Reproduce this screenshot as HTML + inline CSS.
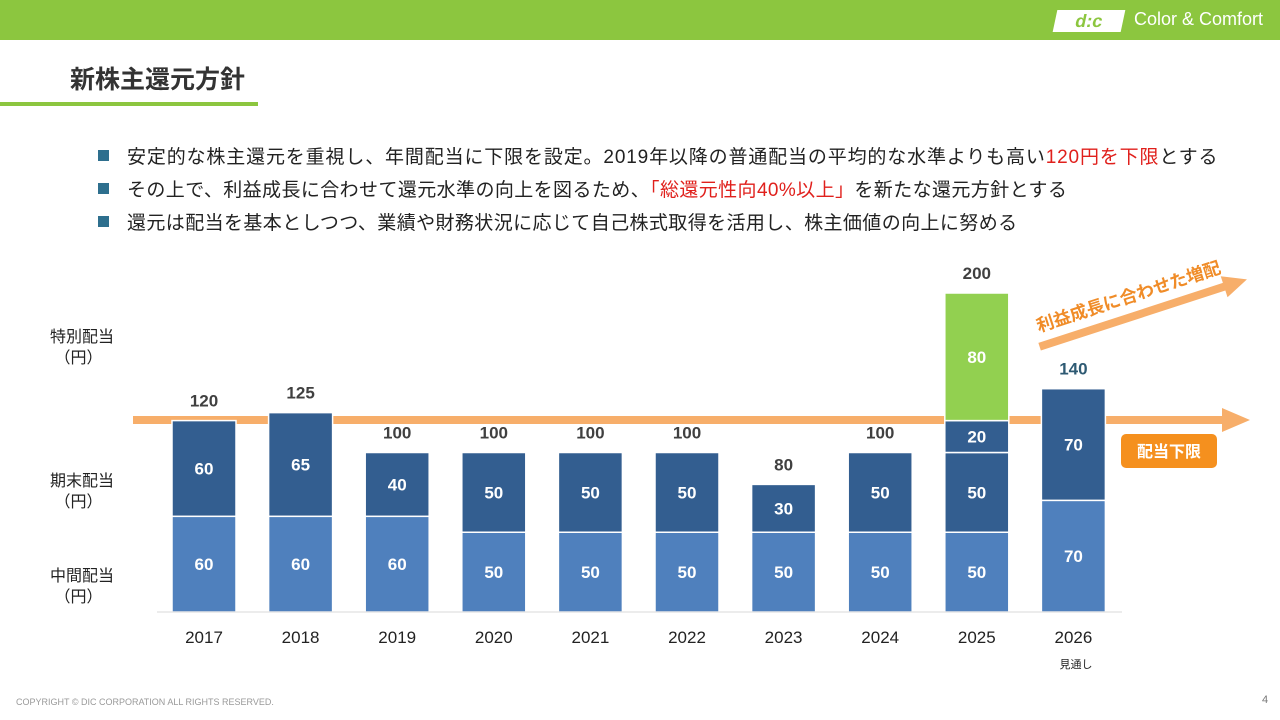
<!DOCTYPE html>
<html><head><meta charset="utf-8"><style>
body{margin:0;width:1280px;height:720px;overflow:hidden;background:#fff;font-family:"Liberation Sans","Noto Sans CJK JP",sans-serif;position:relative}
.abs{position:absolute}
.bul{position:absolute;left:98px;font-size:19px;color:#222;white-space:nowrap;letter-spacing:0.85px}
.bul:before{content:"";display:inline-block;width:11px;height:11px;background:#2e6f8e;margin-right:18px;vertical-align:2px}
.red{color:#e0201c}
.ylab{position:absolute;font-size:16px;color:#222;line-height:21px}
</style></head><body>
<div class="abs" style="left:0;top:0;width:1280px;height:40px;background:#8cc63f"></div>
<div class="abs" style="left:1055px;top:10px;width:68px;height:22px;background:#fff;transform:skewX(-12deg);color:#8cc63f;font-weight:bold;font-size:18px;text-align:center;line-height:22px">d:c</div>
<div class="abs" style="left:1134px;top:9px;color:#fff;font-size:18px">Color &amp; Comfort</div>
<div class="abs" style="left:70px;top:60px;font-size:25px;font-weight:bold;color:#333">新株主還元方針</div>
<div class="abs" style="left:0;top:102px;width:258px;height:4px;background:#8cc63f"></div>
<div class="bul" style="top:142px">安定的な株主還元を重視し、年間配当に下限を設定。2019年以降の普通配当の平均的な水準よりも高い<span class="red">120円を下限</span>とする</div>
<div class="bul" style="top:175px;letter-spacing:0.4px">その上で、利益成長に合わせて還元水準の向上を図るため、<span class="red">「総還元性向40%以上」</span>を新たな還元方針とする</div>
<div class="bul" style="top:208px;letter-spacing:0.4px">還元は配当を基本としつつ、業績や財務状況に応じて自己株式取得を活用し、株主価値の向上に努める</div>
<div class="ylab" style="left:50px;top:327px">特別配当<br>&nbsp;（円）</div>
<div class="ylab" style="left:50px;top:471px">期末配当<br>&nbsp;（円）</div>
<div class="ylab" style="left:50px;top:566px">中間配当<br>&nbsp;（円）</div>
<svg class="abs" style="left:0;top:0" width="1280" height="720" id="chart">
<polygon points="133,416 1222,416 1222,408 1250,420 1222,432 1222,424 133,424" fill="#f7ae6a"/>
<g id="bars"></g>
<line x1="157" y1="612" x2="1122" y2="612" stroke="#d9d9d9" stroke-width="1"/>
<g transform="translate(1138,300) rotate(-18)">
<polygon points="-108,4 86,4 86,11 110,0 86,-11 86,-4 -108,-4" fill="#f7ae6a" transform="translate(0,14)"/>
<text x="-8" y="0" text-anchor="middle" font-size="17.5" font-weight="bold" fill="#f08c28">利益成長に合わせた増配</text>
</g>
<rect x="1121" y="434" width="96" height="34" rx="5" fill="#f5901e"/>
<text x="1169" y="457" text-anchor="middle" font-size="16" font-weight="bold" fill="#fff">配当下限</text>
<text x="1076" y="668" text-anchor="middle" font-size="11" fill="#222">見通し</text>
</svg>
<div class="abs" style="left:16px;top:697px;font-size:9px;color:#999">COPYRIGHT © DIC CORPORATION ALL RIGHTS RESERVED.</div>
<div class="abs" style="left:1262px;top:694px;font-size:11px;color:#777">4</div>
<script>
const years=["2017","2018","2019","2020","2021","2022","2023","2024","2025","2026"];
const interim=[60,60,60,50,50,50,50,50,50,70];
const periodEnd=[60,65,40,50,50,50,30,50,50,70];
const extra=[0,0,0,0,0,0,0,0,20,0];
const special=[0,0,0,0,0,0,0,0,80,0];
const totals=[120,125,100,100,100,100,80,100,200,140];
const base=612,pxPerUnit=1.595,x0=204,step=96.6,bw=64;
const y=v=>base-v*pxPerUnit;
const xc=i=>x0+i*step;
const g=document.getElementById('bars');
const NS="http://www.w3.org/2000/svg";
function mk(tag,attrs){const e=document.createElementNS(NS,tag);for(const k in attrs)e.setAttribute(k,attrs[k]);return e;}
years.forEach((yr,i)=>{
  let acc=0;
  const segs=[[interim[i],"#4f80bd","interim"],[periodEnd[i],"#335e90","period-end"],[extra[i],"#335e90","extra"],[special[i],"#92d050","special"]];
  segs.forEach(([v,c,n])=>{
    if(!v)return;
    const r=mk('rect',{x:xc(i)-bw/2,y:y(acc+v),width:bw,height:v*pxPerUnit,fill:c,stroke:"#fff","stroke-width":1.5});
    
    
    g.appendChild(r);
    const t=mk('text',{x:xc(i),y:y(acc+v/2)+6,"text-anchor":"middle","font-size":17,"font-weight":"bold",fill:"#fff"});
    t.textContent=v;
    
    
    g.appendChild(t);
    acc+=v;
  });
  const tt=mk('text',{x:xc(i),y:y(totals[i])-14,"text-anchor":"middle","font-size":17,"font-weight":"bold",fill:i==9?"#2e5a73":"#404040"});
  tt.textContent=totals[i];
  
  
  g.appendChild(tt);
  const xl=mk('text',{x:xc(i),y:643,"text-anchor":"middle","font-size":17,fill:"#222"});
  xl.textContent=yr;
  
  
  g.appendChild(xl);
});
</script>
</body></html>
